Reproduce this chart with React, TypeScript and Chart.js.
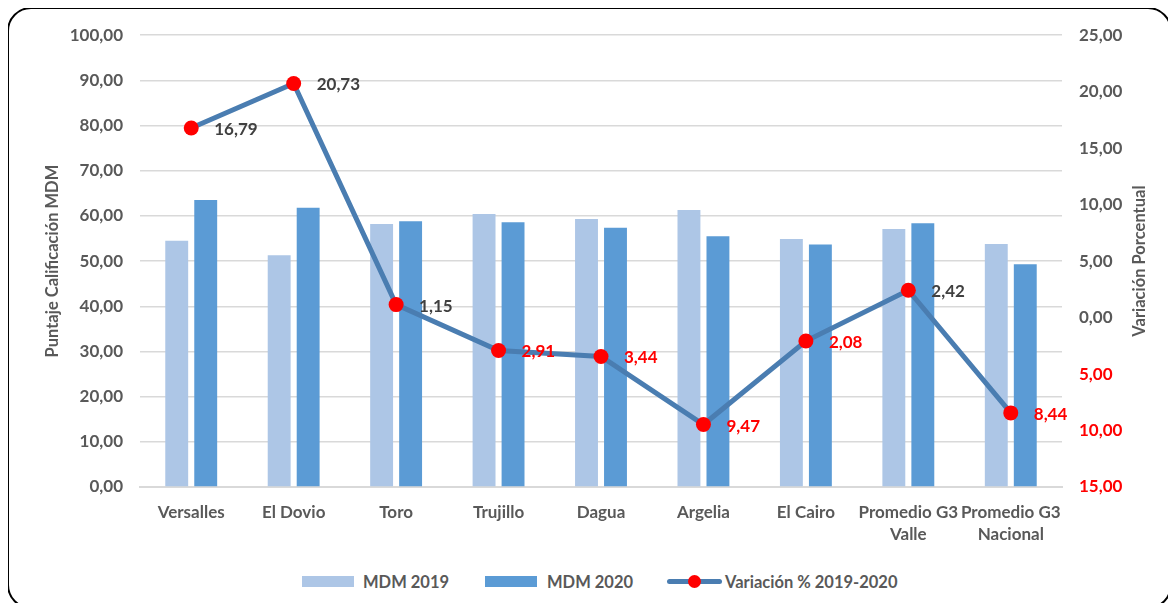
import React, { useEffect, useRef } from 'react';
import { Chart, registerables } from 'chart.js';

Chart.register(...registerables);

const categories: string[][] = [
  ['Versalles'],
  ['El Dovio'],
  ['Toro'],
  ['Trujillo'],
  ['Dagua'],
  ['Argelia'],
  ['El Cairo'],
  ['Promedio G3', 'Valle'],
  ['Promedio G3', 'Nacional'],
];
const mdm2019 = [54.5, 51.3, 58.2, 60.4, 59.3, 61.3, 54.9, 57.1, 53.8];
const mdm2020 = [63.5, 61.8, 58.8, 58.6, 57.4, 55.5, 53.7, 58.4, 49.3];
const variacion = [16.79, 20.73, 1.15, -2.91, -3.44, -9.47, -2.08, 2.42, -8.44];

const leftTitle = 'Puntaje Calificación MDM';
const rightTitle = 'Variación Porcentual';
const seriesNames = ['MDM 2019', 'MDM 2020', 'Variación % 2019-2020'];

const FONT = 'Lato, Carlito, "Open Sans", sans-serif';
const GRAY = '#595959';
const RED = '#ff0000';
const C2019 = '#adc6e6';
const C2020 = '#5b9bd5';
const CLINE = '#4a7db1';

const fmt = (v: number) => Math.abs(v).toFixed(2).replace('.', ',');

const overlayPlugin = {
  id: 'overlay',
  afterDatasetsDraw(chart: any) {
    const ctx = chart.ctx;
    const meta = chart.getDatasetMeta(2);
    ctx.save();
    ctx.font = `bold 17px ${FONT}`;
    ctx.textBaseline = 'middle';
    ctx.textAlign = 'left';
    meta.data.forEach((pt: any, i: number) => {
      const v = variacion[i];
      ctx.fillStyle = v < 0 ? RED : '#404040';
      ctx.fillText(fmt(v), pt.x + 23, pt.y + 1.5);
    });
    ctx.restore();
  },
  afterDraw(chart: any) {
    const ctx = chart.ctx;
    const area = chart.chartArea;
    const cy = (area.top + area.bottom) / 2;
    ctx.save();
    ctx.font = `bold 16.5px ${FONT}`;
    ctx.fillStyle = GRAY;
    ctx.textAlign = 'center';
    ctx.textBaseline = 'middle';
    ctx.translate(45, cy);
    ctx.rotate(-Math.PI / 2);
    ctx.fillText(leftTitle, 0, 0);
    ctx.restore();
    ctx.save();
    ctx.font = `bold 16.5px ${FONT}`;
    ctx.fillStyle = GRAY;
    ctx.textAlign = 'center';
    ctx.textBaseline = 'middle';
    ctx.translate(1132, cy);
    ctx.rotate(-Math.PI / 2);
    ctx.fillText(rightTitle, 0, 0);
    ctx.restore();
  },
};

export default function App() {
  const ref = useRef<HTMLCanvasElement>(null);
  useEffect(() => {
    if (!ref.current) return;
    const chart = new Chart(ref.current, {
      type: 'bar',
      data: {
        labels: categories,
        datasets: [
          {
            type: 'bar',
            label: seriesNames[0],
            data: mdm2019,
            backgroundColor: C2019,
            yAxisID: 'y',
            order: 1,
            categoryPercentage: 0.566,
            barPercentage: 0.79,
          },
          {
            type: 'bar',
            label: seriesNames[1],
            data: mdm2020,
            backgroundColor: C2020,
            yAxisID: 'y',
            order: 1,
            categoryPercentage: 0.566,
            barPercentage: 0.79,
          },
          {
            type: 'line',
            label: seriesNames[2],
            data: variacion,
            borderColor: CLINE,
            borderWidth: 5,
            pointRadius: 7.5,
            pointBackgroundColor: RED,
            pointBorderColor: RED,
            pointBorderWidth: 0,
            tension: 0,
            yAxisID: 'y1',
            order: 0,
          } as any,
        ],
      },
      options: {
        animation: false,
        responsive: false,
        maintainAspectRatio: false,
        layout: { padding: { top: 27, left: 0, right: 0, bottom: 0 } },
        plugins: {
          legend: { display: false },
          tooltip: { enabled: false },
        },
        scales: {
          x: {
            grid: { display: false },
            border: { display: true, color: '#d9d9d9', width: 2 },
            ticks: {
              color: GRAY,
              font: { family: FONT, size: 17, weight: 'bold', lineHeight: 1.3 },
              padding: 6,
              maxRotation: 0,
              autoSkip: false,
            },
            afterFit: (s: any) => {
              s.height = 81;
            },
          },
          y: {
            position: 'left',
            min: 0,
            max: 100,
            ticks: {
              stepSize: 10,
              color: GRAY,
              font: { family: FONT, size: 17, weight: 'bold' },
              padding: 17,
              callback: (v: any) => fmt(Number(v)),
            },
            grid: { color: '#d9d9d9', lineWidth: 1.5, drawTicks: false },
            border: { display: false },
            afterFit: (s: any) => {
              s.width = 132;
            },
          },
          y1: {
            position: 'right',
            min: -15,
            max: 25,
            ticks: {
              stepSize: 5,
              color: (c: any) => (c.tick && c.tick.value < 0 ? RED : GRAY),
              font: { family: FONT, size: 17, weight: 'bold' },
              padding: 17,
              callback: (v: any) => fmt(Number(v)),
            },
            grid: { display: false, drawTicks: false },
            border: { display: false },
            afterFit: (s: any) => {
              s.width = 106;
            },
          },
        },
      } as any,
      plugins: [overlayPlugin],
    });
    return () => chart.destroy();
  }, []);

  const legendText: React.CSSProperties = {
    font: `bold 16.5px ${FONT}`,
    color: GRAY,
    whiteSpace: 'nowrap',
    lineHeight: '20px',
  };
  const item = (left: number): React.CSSProperties => ({
    position: 'absolute',
    left: left - 8,
    top: 571.5 - 8,
    height: 20,
    display: 'flex',
    alignItems: 'center',
  });

  return (
    <div style={{ position: 'relative', width: 1160, height: 595 }}>
      <canvas ref={ref} width={1160} height={560} style={{ display: 'block', width: 1160, height: 560 }} />
      <div style={item(302)}>
        <div style={{ width: 52, height: 11, background: C2019, marginRight: 9 }} />
        <span style={legendText}>{seriesNames[0]}</span>
      </div>
      <div style={item(485)}>
        <div style={{ width: 52, height: 11, background: C2020, marginRight: 10 }} />
        <span style={legendText}>{seriesNames[1]}</span>
      </div>
      <div style={item(667)}>
        <div style={{ position: 'relative', width: 55, height: 20, marginRight: 3 }}>
          <div style={{ position: 'absolute', left: 0, top: 7.5, width: 55, height: 5, borderRadius: 3, background: CLINE }} />
          <div style={{ position: 'absolute', left: 21, top: 3.5, width: 13, height: 13, borderRadius: '50%', background: RED }} />
        </div>
        <span style={legendText}>{seriesNames[2]}</span>
      </div>
      <div
        style={{
          position: 'absolute',
          left: -1,
          top: -1,
          width: 1165,
          height: 602,
          boxSizing: 'border-box',
          border: '2px solid #000',
          borderRadius: 24,
          pointerEvents: 'none',
        }}
      />
    </div>
  );
}
